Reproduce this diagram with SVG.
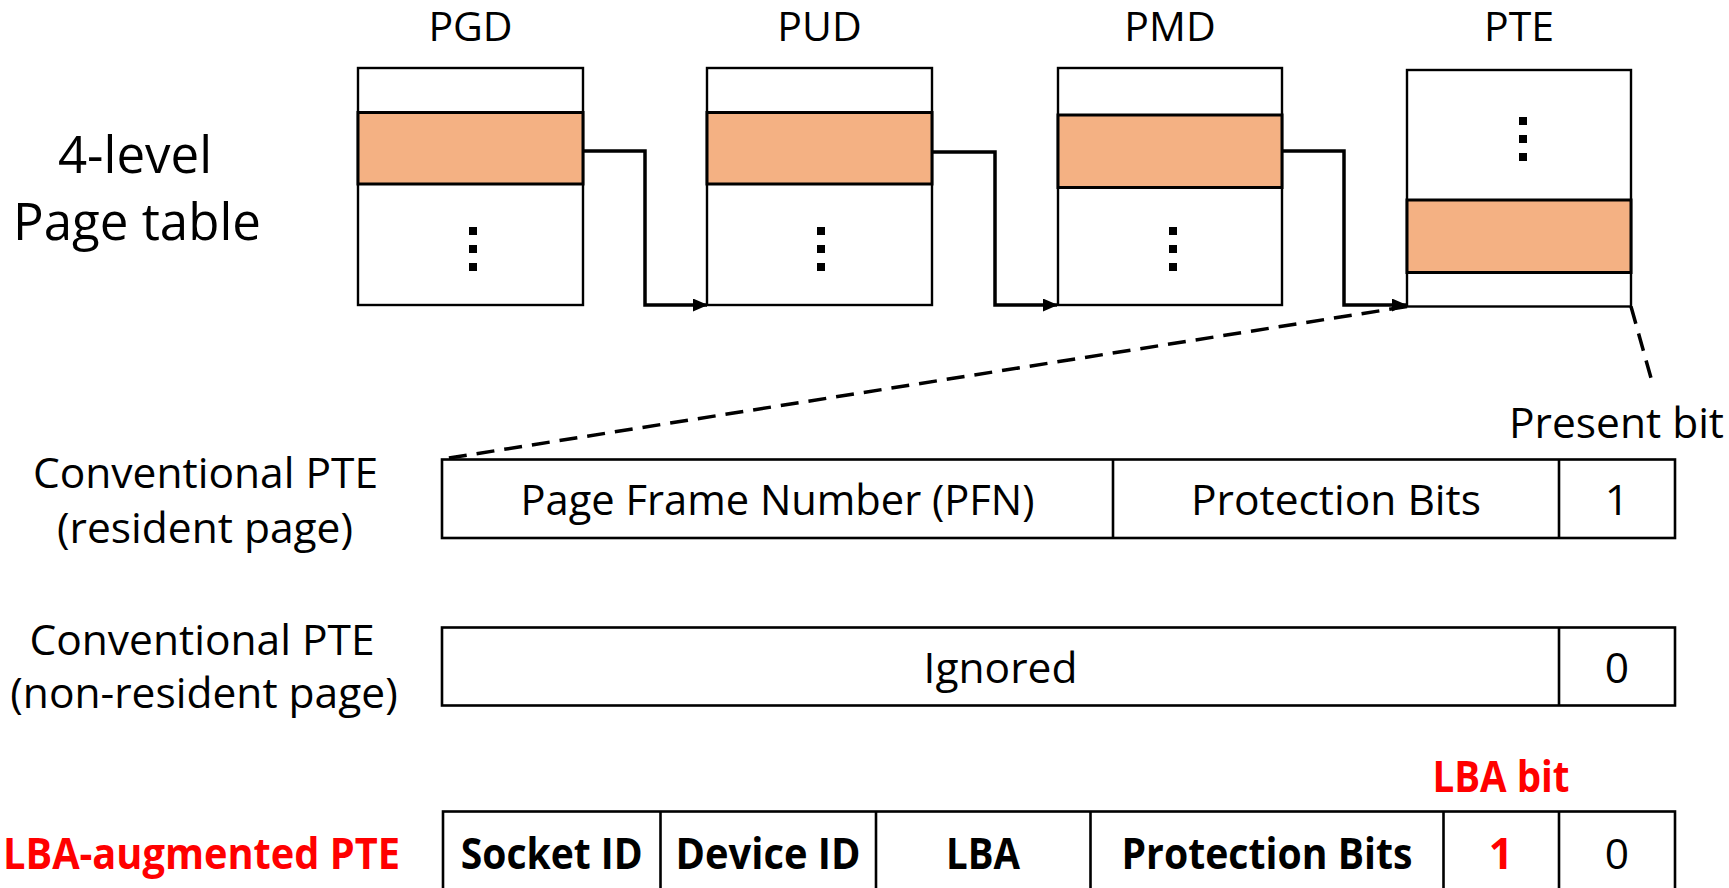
<svg xmlns="http://www.w3.org/2000/svg" width="1729" height="888" viewBox="0 0 1729 888">
  <defs>
    <style>
      .t { font-family: "Open Sans", "Noto Sans", "Liberation Sans", sans-serif; fill: #000; }
      .lbl { font-size: 42.5px; }
      .hdr { font-size: 41px; text-anchor: middle; }
      .big { font-size: 51px; text-anchor: middle; }
      .mid { text-anchor: middle; }
      .b { font-weight: bold; }
      .red { fill: #FF0000; }
      .box { fill: #FFFFFF; stroke: #000; stroke-width: 2.4; }
      .entry { fill: #F4B183; stroke: #000; stroke-width: 3; }
      .dot { fill: #000; }
      .cell { fill: none; stroke: #000; stroke-width: 2.6; }
      .wire { fill: none; stroke: #000; stroke-width: 3.5; }
      .dash { fill: none; stroke: #000; stroke-width: 3.5; stroke-dasharray: 18 10; }
    </style>
    <marker id="arrow" viewBox="0 0 15 13" refX="14" refY="6.5" markerWidth="15" markerHeight="13" markerUnits="userSpaceOnUse" orient="auto">
      <path d="M0,0 L15,6.5 L0,13 Z" fill="#000"/>
    </marker>
  </defs>

  <rect width="1729" height="888" fill="#FFFFFF"/>

  <!-- title -->
  <g id="title">
    <text class="t big" x="135" y="173">4-level</text>
    <text class="t big" x="137" y="240">Page table</text>
  </g>

  <!-- PGD -->
  <g id="pgd">
    <text class="t hdr" x="470.5" y="41">PGD</text>
    <rect class="box" x="358" y="68" width="225" height="237"/>
    <rect class="entry" x="358" y="112.5" width="225" height="71.5"/>
    <rect class="dot" x="469" y="227" width="8" height="8"/>
    <rect class="dot" x="469" y="245" width="8" height="8"/>
    <rect class="dot" x="469" y="263" width="8" height="8"/>
  </g>

  <!-- PUD -->
  <g id="pud">
    <text class="t hdr" x="819.5" y="41">PUD</text>
    <rect class="box" x="707" y="68" width="225" height="237"/>
    <rect class="entry" x="707" y="112.5" width="225" height="71.5"/>
    <rect class="dot" x="817" y="227" width="8" height="8"/>
    <rect class="dot" x="817" y="245" width="8" height="8"/>
    <rect class="dot" x="817" y="263" width="8" height="8"/>
  </g>

  <!-- PMD -->
  <g id="pmd">
    <text class="t hdr" x="1170" y="41">PMD</text>
    <rect class="box" x="1058" y="68" width="224" height="237"/>
    <rect class="entry" x="1058" y="115" width="224" height="72.5"/>
    <rect class="dot" x="1169" y="227" width="8" height="8"/>
    <rect class="dot" x="1169" y="245" width="8" height="8"/>
    <rect class="dot" x="1169" y="263" width="8" height="8"/>
  </g>

  <!-- PTE -->
  <g id="pte">
    <text class="t hdr" x="1519" y="41">PTE</text>
    <rect class="box" x="1407" y="70" width="224" height="236.5"/>
    <rect class="entry" x="1407" y="200" width="224" height="72.5"/>
    <rect class="dot" x="1519" y="117" width="8" height="8"/>
    <rect class="dot" x="1519" y="135" width="8" height="8"/>
    <rect class="dot" x="1519" y="153" width="8" height="8"/>
  </g>

  <!-- links between levels and zoom-out lines -->
  <g id="connectors">
    <path class="wire" d="M583,151 H645 V305 H707" marker-end="url(#arrow)"/>
    <path class="wire" d="M932,152 H995 V305 H1057" marker-end="url(#arrow)"/>
    <path class="wire" d="M1282,151 H1344 V305 H1406" marker-end="url(#arrow)"/>
    <path class="dash" d="M1407,306.5 L443,459"/>
    <path class="dash" d="M1631,306.5 L1651,378"/>
  </g>

  <!-- present bit label -->
  <g id="present-bit">
    <text class="t lbl mid" x="1616.5" y="438">Present bit</text>
  </g>

  <!-- conventional PTE, resident page -->
  <g id="pte-resident">
    <text class="t lbl mid" x="205.5" y="488">Conventional PTE</text>
    <text class="t lbl mid" x="205" y="543">(resident page)</text>
    <rect class="cell" x="442" y="459.5" width="1233" height="78.5"/>
    <line class="cell" x1="1113" y1="459.5" x2="1113" y2="538"/>
    <line class="cell" x1="1559" y1="459.5" x2="1559" y2="538"/>
    <text class="t lbl mid" x="777.5" y="515" textLength="514" lengthAdjust="spacingAndGlyphs">Page Frame Number (PFN)</text>
    <text class="t lbl mid" x="1336" y="515">Protection Bits</text>
    <text class="t lbl mid" x="1617" y="515">1</text>
  </g>

  <!-- conventional PTE, non-resident page -->
  <g id="pte-nonresident">
    <text class="t lbl mid" x="202" y="655">Conventional PTE</text>
    <text class="t lbl mid" x="204" y="708">(non-resident page)</text>
    <rect class="cell" x="442" y="627.5" width="1233" height="78"/>
    <line class="cell" x1="1559" y1="627.5" x2="1559" y2="705.5"/>
    <text class="t lbl mid" x="1000.5" y="683">Ignored</text>
    <text class="t lbl mid" x="1617" y="683">0</text>
  </g>

  <!-- LBA-augmented PTE -->
  <g id="pte-lba">
    <text class="t lbl b red" x="3" y="869" textLength="397" lengthAdjust="spacingAndGlyphs">LBA-augmented PTE</text>
    <text class="t lbl b red mid" x="1501" y="792" textLength="137" lengthAdjust="spacingAndGlyphs">LBA bit</text>
    <rect class="cell" x="443" y="811.5" width="1232" height="90"/>
    <line class="cell" x1="660.5" y1="811.5" x2="660.5" y2="888"/>
    <line class="cell" x1="876" y1="811.5" x2="876" y2="888"/>
    <line class="cell" x1="1090.5" y1="811.5" x2="1090.5" y2="888"/>
    <line class="cell" x1="1443.5" y1="811.5" x2="1443.5" y2="888"/>
    <line class="cell" x1="1559" y1="811.5" x2="1559" y2="888"/>
    <text class="t lbl b mid" x="551.7" y="869" textLength="182" lengthAdjust="spacingAndGlyphs">Socket ID</text>
    <text class="t lbl b mid" x="768" y="869" textLength="185" lengthAdjust="spacingAndGlyphs">Device ID</text>
    <text class="t lbl b mid" x="983" y="869" textLength="74" lengthAdjust="spacingAndGlyphs">LBA</text>
    <text class="t lbl b mid" x="1267" y="869" textLength="291" lengthAdjust="spacingAndGlyphs">Protection Bits</text>
    <text class="t lbl b red mid" x="1501" y="869">1</text>
    <text class="t lbl mid" x="1617" y="869">0</text>
  </g>
</svg>
